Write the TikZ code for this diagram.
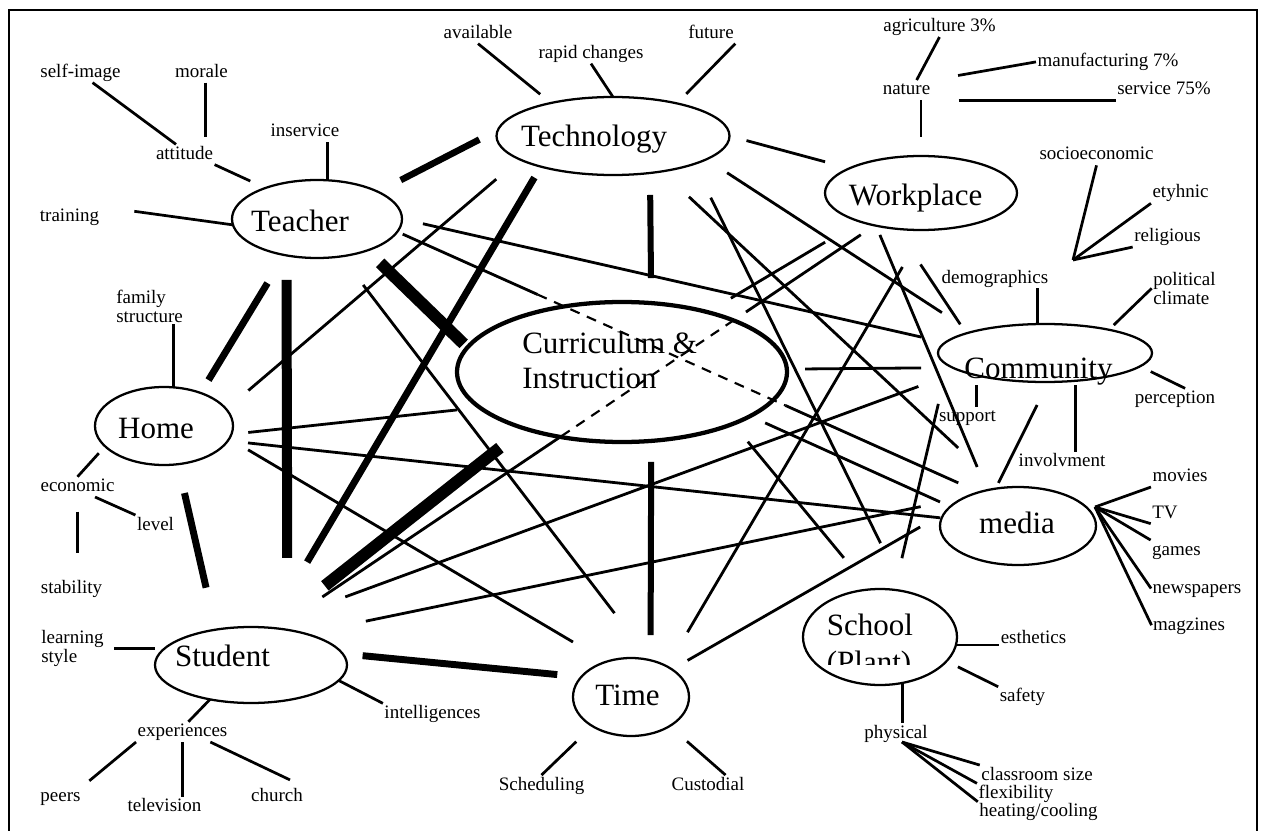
\documentclass[tikz,border=0pt]{standalone}
\usepackage{fontspec}
\setmainfont{Liberation Serif}
\usepackage{tikz}
\usetikzlibrary{shapes.geometric}
\tikzset{
	bubble/.style={draw, ellipse, line width=1.7pt, inner sep=0pt, outer sep=0pt},
	bigtxt/.style={font=\fontsize{23.25pt}{26.25pt}\selectfont, inner sep=0pt},
	lbl/.style={font=\fontsize{14.25pt}{14pt}\selectfont, inner sep=1pt, text height=10pt, text depth=2.8pt, anchor=base},
	lbltwo/.style={font=\fontsize{14.25pt}{14pt}\selectfont, inner sep=1pt, align=left, anchor=north west},
	spoke/.style={line width=2.05pt},
	link/.style={line width=2.1pt},
	dashlink/.style={line width=1.6pt, dash pattern=on 7.5pt off 6pt}
}

\begin{document}
\begin{tikzpicture} [x=0.75pt, y=-0.75pt]
	\useasboundingbox (0,0) rectangle (1264,831);
	\draw [line width=1.5pt] (9,10) rectangle (1257,834);

	\node [bubble, minimum width=170*0.75pt, minimum height=78*0.75pt] (teacher) at (317,219) {};
	\node [bubble, minimum width=233*0.75pt, minimum height=78*0.75pt] (tech) at (613,136) {};
	\node [bubble, minimum width=192*0.75pt, minimum height=74*0.75pt] (work) at (921,193) {};
	\node [bubble, minimum width=330*0.75pt, minimum height=140*0.75pt, line width=3.2pt] (curr) at (622,372) {};
	\node [bubble, minimum width=214*0.75pt, minimum height=58*0.75pt] (comm) at (1045,353) {};
	\node [bubble, minimum width=138*0.75pt, minimum height=78*0.75pt] (home) at (164,426) {};
	\node [bubble, minimum width=156*0.75pt, minimum height=78*0.75pt] (media) at (1018,526) {};
	\node [bubble, minimum width=192*0.75pt, minimum height=76*0.75pt] (student) at (251,665) {};
	\node [bubble, minimum width=116*0.75pt, minimum height=78*0.75pt] (time) at (631,697) {};
	\node [bubble, minimum width=154*0.75pt, minimum height=96*0.75pt] (school) at (880,637) {};

	\node [bigtxt, anchor=base] (teacher-t) at (300,232) {Teacher};
	\node [bigtxt, anchor=base] (tech-t) at (594,146.7) {Technology};
	\node [bigtxt, anchor=base] (work-t) at (915.5,205) {Workplace};
	\node [bigtxt, align=left, anchor=north west] (curr-t) at (522,332) {Curriculum \&\\Instruction};
	\node [bigtxt, anchor=base] (comm-t) at (1038.5,378) {Community};
	\node [bigtxt, anchor=base] (home-t) at (156,438.3) {Home};
	\node [bigtxt, anchor=base] (media-t) at (1017,533.3) {media};
	\node [bigtxt, anchor=base] (student-t) at (222.5,666.7) {Student};
	\node [bigtxt, anchor=base] (time-t) at (627.5,705) {Time};
	\node [bigtxt, anchor=base] (school-t) at (870,635) {School};
	\begin{scope}
		\clip (800,640) rectangle (960,664);
		\node [bigtxt, anchor=base] (plant-t) at (869,672.5) {(Plant)};
	\end{scope}

	\node [lbl] (selfimage) at (80.5,77.3) {self-image};
	\node [lbl] (morale) at (201.5,77.3) {morale};
	\node [lbl] (attitude) at (184.5,159.3) {attitude};
	\node [lbl] (inservice) at (305,136.7) {inservice};
	\node [lbl] (training) at (69.5,221.6) {training};
	\node [lbl] (available) at (478,38.3) {available};
	\node [lbl] (rapid) at (591,58.3) {rapid changes};
	\node [lbl] (future) at (711,38.3) {future};
	\node [lbl] (agri) at (939.5,31.7) {agriculture 3\%};
	\node [lbl] (manuf) at (1108,66.7) {manufacturing 7\%};
	\node [lbl] (nature) at (906.5,95) {nature};
	\node [lbl] (service) at (1164,95) {service 75\%};
	\node [lbl] (socio) at (1096.5,160) {socioeconomic};
	\node [lbl] (ethnic) at (1180.5,198) {etyhnic};
	\node [lbl] (relig) at (1167.5,241.7) {religious};
	\node [lbl] (demog) at (995,283) {demographics};
	\node [lbltwo] (polit) at (1151.7,270.7) {political\\climate};
	\node [lbl] (percep) at (1175,403.3) {perception};
	\node [lbl] (support) at (967.5,421.7) {support};
	\node [lbl] (involve) at (1062,466.7) {involvment};
	\node [lbl] (movies) at (1180,481.7) {movies};
	\node [lbl] (tv) at (1165,518.3) {TV};
	\node [lbl] (games) at (1176.5,555) {games};
	\node [lbl] (news) at (1197,593.3) {newspapers};
	\node [lbl] (mags) at (1189,630) {magzines};
	\node [lbl] (esth) at (1033.5,643.3) {esthetics};
	\node [lbl] (safety) at (1022.5,701.7) {safety};
	\node [lbl] (phys) at (896,738.3) {physical};
	\node [lbl] (csize) at (1037,780) {classroom size};
	\node [lbl] (flex) at (1016,798.3) {flexibility};
	\node [lbl] (heat) at (1038.5,816.7) {heating/cooling};
	\node [lbl] (sched) at (541.5,790) {Scheduling};
	\node [lbl] (cust) at (708,790) {Custodial};
	\node [lbl] (intel) at (432.5,718.3) {intelligences};
	\node [lbl] (exper) at (182.5,736.7) {experiences};
	\node [lbl] (peers) at (60.5,801.7) {peers};
	\node [lbl] (telev) at (164.5,811.7) {television};
	\node [lbl] (church) at (277,801.7) {church};
	\node [lbl] (stab) at (71.5,593.3) {stability};
	\node [lbltwo] (learn) at (39.7,629) {learning\\style};
	\node [lbl] (econ) at (77.5,491.7) {economic};
	\node [lbl] (level) at (155.5,530) {level};
	\node [lbltwo] (famstr) at (114.7,289) {family\\structure};

	\coordinate (shub) at (1073,260);
	\coordinate (mhub) at (1095,507);
	\coordinate (phub) at (902,742);

	\draw [line width=4.9pt, shorten <=19.2pt, shorten >=15.7pt] (teacher.24.7) -- (tech.177.8);
	\draw [line width=9pt, shorten <=13.4pt, shorten >=3.9pt] (teacher.-32.1) -- (curr.171.4);
	\draw [line width=5.2pt, shorten <=24.6pt, shorten >=11.3pt] (teacher.228.7) -- (home.42.6);
	\draw [line width=7.5pt, shorten <=18.4pt, shorten >=53.9pt] (teacher.230.6) -- (student.44.4);
	\draw [line width=5.2pt, shorten <=22.2pt, shorten >=32.3pt] (home.-70.4) -- (student.135.4);
	\draw [line width=5.2pt, shorten <=9.5pt, shorten >=57.1pt] (tech.203.8) -- (student.65.7);
	\draw [line width=9pt, shorten <=23.3pt, shorten >=50.9pt] (curr.210.5) -- (student.61);
	\draw [line width=4.5pt, shorten <=16.5pt, shorten >=18.75pt] (tech.-45) -- (curr.67.9);
	\draw [line width=4.5pt, shorten <=15.75pt, shorten >=18.9pt] (curr.-67.9) -- (time.62.7);
	\draw [line width=5.2pt, shorten <=15pt, shorten >=18.1pt] (student.7.5) -- (time.158.7);

	\draw [link, shorten <=16.1pt, shorten >=18.4pt] (teacher.0) -- (comm.174.6);
	\path (teacher.-9.7) -- coordinate[pos=0.241] (tm1) coordinate[pos=0.667] (tm2) (media.139.3);
	\draw [link, shorten <=4.4pt] (teacher.-9.7) -- (tm1);
	\draw [dashlink] (tm1) -- (tm2);
	\draw [link, shorten >=17.1pt] (tm2) -- (media.139.3);
	\path (work.215.9) -- coordinate[pos=0.215] (ws1) coordinate[pos=0.235] (ws2) coordinate[pos=0.527] (ws3) (student.56.5);
	\draw [link, shorten <=12.6pt] (work.215.9) -- (ws1);
	\draw [dashlink] (ws2) -- (ws3);
	\draw [link, shorten >=42.1pt] (ws3) -- (student.56.5);
	\draw [link, shorten <=30.3pt, shorten >=20.4pt] (work.205) -- (curr.35.5);
	\draw [link, shorten <=23pt, shorten >=21.7pt] (tech.194.9) -- (home.15.7);
	\draw [link, shorten <=27pt, shorten >=44.5pt] (teacher.-57.2) -- (time.62.6);
	\draw [link, shorten <=12.7pt, shorten >=17.2pt] (home.-7.5) -- (curr.194);
	\draw [link, shorten <=15.2pt, shorten >=1.1pt] (home.-13) -- (media.174.2);
	\draw [link, shorten <=16.4pt, shorten >=29pt] (home.-11.2) -- (time.125);
	\draw [link, shorten <=66.1pt, shorten >=33.9pt] (student.73.4) -- (comm.192.6);
	\draw [link, shorten <=46.4pt, shorten >=33.6pt] (student.30.6) -- (media.152.6);
	\draw [link, shorten <=29.9pt, shorten >=32.2pt] (time.40.6) -- (work.-85.7);
	\draw [link, shorten <=13.5pt, shorten >=21pt] (time.34.8) -- (media.170.1);
	\draw [link, shorten <=27.9pt, shorten >=44pt] (tech.-36.7) -- (media.114.1);
	\draw [link, shorten <=28.2pt, shorten >=40.3pt] (tech.-19.4) -- (school.62.8);
	\draw [link, shorten <=18.5pt, shorten >=26.5pt] (tech.-14.1) -- (comm.164.7);
	\draw [link, shorten <=7.5pt, shorten >=18.9pt] (work.216.1) -- (media.131.2);
	\draw [link, shorten <=32.1pt, shorten >=8.1pt] (work.236.3) -- (comm.166.5);
	\draw [link, shorten <=13.7pt, shorten >=23.6pt] (curr.1.4) -- (comm.189.3);
	\draw [link, shorten <=12.4pt, shorten >=8.5pt] (curr.-19.1) -- (media.164);
	\draw [link, shorten <=17.4pt, shorten >=30.7pt] (curr.-25.3) -- (school.102.9);
	\draw [link, shorten <=30pt, shorten >=24.4pt] (comm.187.9) -- (school.73.4);
	\draw [link, shorten <=19.3pt, shorten >=4.8pt] (comm.-83.1) -- (media.121.5);
	\draw [link, shorten <=13.2pt, shorten >=18.9pt] (tech.-0.8) -- (work.161);

	\draw [spoke] (selfimage.-40) -- (attitude.130);
	\draw [spoke, shorten >=5.5pt] (morale.-70) -- (morale.-70 |- attitude.north);
	\draw [spoke, shorten >=12.5pt] (attitude.south east) -- (teacher.149.8);
	\draw [spoke] (inservice.south -| teacher.75.5) -- (teacher.75.5);
	\draw [spoke, shorten <=25.5pt] (training.north east) -- (teacher.184);
	\draw [spoke, shorten >=10.4pt] (available.south) -- (tech.152.8);
	\draw [spoke] (rapid.south) -- (tech.north);
	\draw [spoke, shorten >=10pt] (future.south east) -- (tech.27.5);
	\draw [spoke] (agri.south) -- (nature.45);
	\draw [spoke, shorten <=20pt] (nature.north east) -- (manuf.west);
	\draw [spoke, shorten <=20pt] (nature.south east) -- (service.south west);
	\draw [spoke, shorten >=14pt] (nature.south -| work.north) -- (work.north);
	\draw [spoke] (shub) -- (socio.south);
	\draw [spoke] (shub) -- (ethnic.south west);
	\draw [spoke] (shub) -- (relig.south west);
	\draw [spoke] (demog.south -| comm.105.5) -- (comm.105.5);
	\draw [spoke, shorten >=5pt] (polit.west) -- (comm.20.9);
	\draw [spoke, shorten >=9pt] (percep.45) -- (comm.-8);
	\draw [spoke, shorten >=7pt] (support.north -| comm.198.2) -- (comm.198.2);
	\draw [spoke, shorten >=3pt] (involve.north -| comm.-42.8) -- (comm.-42.8);
	\draw [spoke] (mhub) -- (movies.south west);
	\draw [spoke] (mhub) -- (tv.south west);
	\draw [spoke] (mhub) -- (games.north west);
	\draw [spoke] (mhub) -- (news.west);
	\draw [spoke] (mhub) -- (mags.west);
	\draw [spoke] (school.-6) -- (school.-6 -| esth.west);
	\draw [spoke, shorten >=9.5pt] (safety.north west) -- (school.-20.4);
	\draw [spoke] (school.-64.4) -- (school.-64.4 |- phys.north);
	\draw [spoke] (phub) -- (csize.north west);
	\draw [spoke] (phub) -- (flex.north west);
	\draw [spoke] (phub) -- (heat.north west);
	\draw [spoke, shorten >=16.8pt] (sched.north) -- (time.217.5);
	\draw [spoke, shorten >=17.3pt] (cust.30.5) -- (time.-37);
	\draw [spoke, shorten <=7pt] (learn.east) -- (learn.east -| student.west);
	\draw [spoke] (intel.north west) -- (student.-10.3);
	\draw [spoke] (exper.60) -- (student.220);
	\draw [spoke, shorten >=7pt] (exper.south west) -- (peers.north east);
	\draw [spoke] (exper.south) -- (exper.south |- telev.north);
	\draw [spoke, shorten >=12pt] (exper.-20) -- (church.north east);
	\draw [spoke] (famstr.south -| home.76.9) -- (home.76.9);
	\draw [spoke, shorten >=7pt] (econ.north) -- (home.199.7);
	\draw [spoke] (econ.-30) -- (level.north west);
	\draw [spoke, shorten <=11pt, shorten >=19pt] (econ.south) -- (econ.south |- stab.north);
\end{tikzpicture}
\end{document}
